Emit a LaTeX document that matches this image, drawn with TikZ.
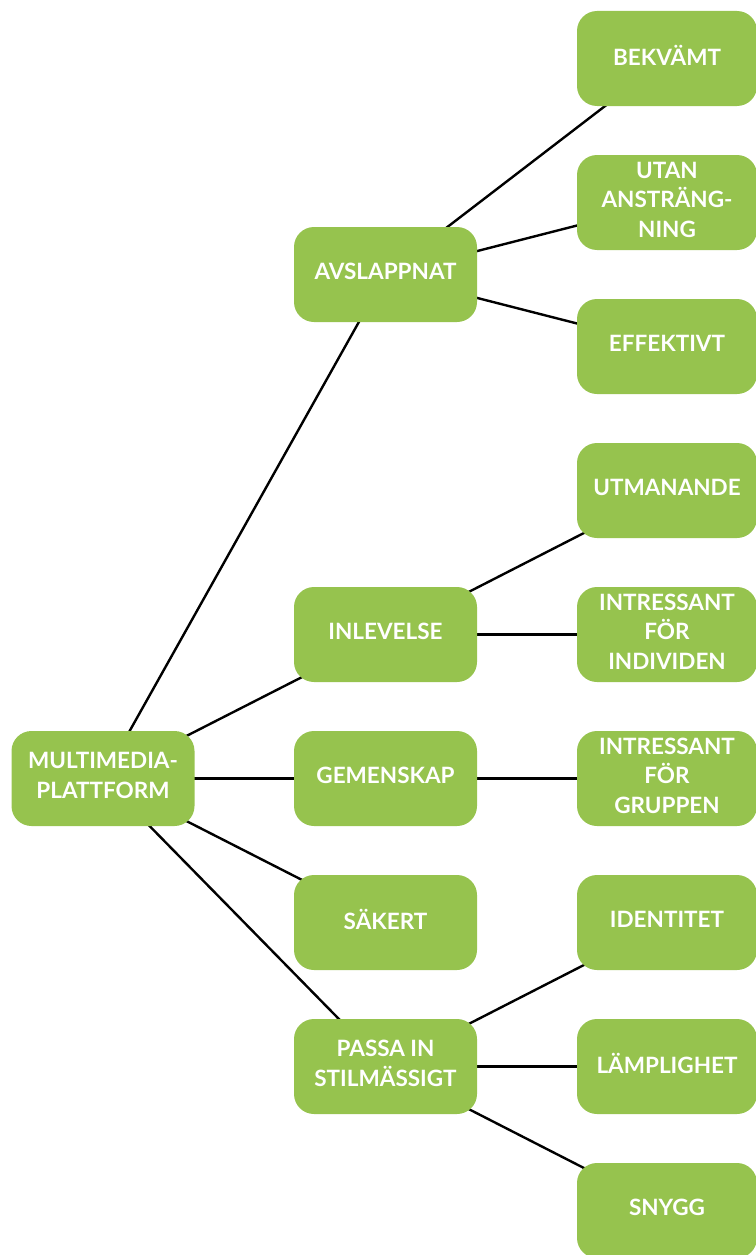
\documentclass[tikz,border=0pt]{standalone}
\usepackage{fontspec}
\setmainfont{Lato}
\usetikzlibrary{backgrounds}
\definecolor{boxgreen}{HTML}{96C34E}
\begin{document}
\begin{tikzpicture}[x=1pt,y=-1pt,
  box/.style={fill=boxgreen, rounded corners=20pt, minimum width=183pt, minimum height=95pt,
    inner sep=0pt, text=white, font=\bfseries\fontsize{22.5}{29.5}\selectfont, align=center,
    text depth=6pt},
  leaf/.style={box, minimum width=180pt},
  link/.style={line width=2.4pt, black}]
\useasboundingbox (0,0) rectangle (755,1255);
\node[box] (root) at (103,778.5) {MULTIMEDIA-\\PLATTFORM};
\node[box] (avs) at (385.5,274.5) {AVSLAPPNAT};
\node[box] (inl) at (385.5,634.5) {INLEVELSE};
\node[box] (gem) at (385.5,778.5) {GEMENSKAP};
\node[box] (sak) at (385.5,922.5) {SÄKERT};
\node[box] (pas) at (385.5,1066.5) {PASSA IN\\STILMÄSSIGT};
\node[leaf] (bek) at (667,58.5) {BEKVÄMT};
\node[leaf] (uta) at (667,202.5) {UTAN\\ANSTRÄNG-\\NING};
\node[leaf] (eff) at (667,346.5) {EFFEKTIVT};
\node[leaf] (utm) at (667,490.5) {UTMANANDE};
\node[leaf] (ind) at (667,634.5) {INTRESSANT\\FÖR\\INDIVIDEN};
\node[leaf] (gru) at (667,778.5) {INTRESSANT\\FÖR\\GRUPPEN};
\node[leaf] (ide) at (667,922.5) {IDENTITET};
\node[leaf] (lam) at (667,1066.5) {LÄMPLIGHET};
\node[leaf] (sny) at (667,1210.5) {SNYGG};
\begin{pgfonlayer}{background}
\draw[link] (root.center) -- (avs.center);
\draw[link] (root.center) -- (inl.center);
\draw[link] (root.center) -- (gem.center);
\draw[link] (root.center) -- (sak.center);
\draw[link] (root.center) -- (pas.center);
\draw[link] (avs.center) -- (bek.center);
\draw[link] (avs.center) -- (uta.center);
\draw[link] (avs.center) -- (eff.center);
\draw[link] (inl.center) -- (utm.center);
\draw[link] (inl.center) -- (ind.center);
\draw[link] (gem.center) -- (gru.center);
\draw[link] (pas.center) -- (ide.center);
\draw[link] (pas.center) -- (lam.center);
\draw[link] (pas.center) -- (sny.center);
\end{pgfonlayer}
\end{tikzpicture}
\end{document}
